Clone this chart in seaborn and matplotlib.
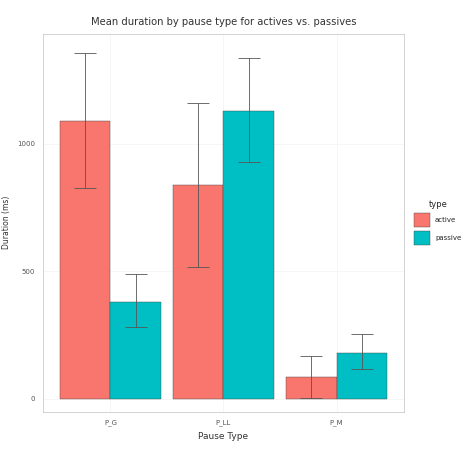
import numpy as np
import matplotlib.pyplot as plt
import pandas as pd
import seaborn as sns

pause_types = ["P_G", "P_LL", "P_M"]
active_mean = [1090, 838, 86]
active_lo = [825, 518, 2]
active_hi = [1354, 1160, 167]
passive_mean = [381, 1128, 179]
passive_lo = [280, 926, 117]
passive_hi = [490, 1335, 253]

df = pd.DataFrame({
    "pause": pause_types * 2,
    "type": ["active"] * 3 + ["passive"] * 3,
    "dur": active_mean + passive_mean,
    "lo": active_lo + passive_lo,
    "hi": active_hi + passive_hi,
})

sns.set_style("whitegrid")
plt.rcParams['font.family'] = ['DejaVu Sans']
fig = plt.figure(figsize=(4.73, 4.5), dpi=100)
ax = fig.add_axes([0.09, 0.085, 0.765, 0.84])

pal = {"active": "#F8766D", "passive": "#00BFC4"}
sns.barplot(data=df, x="pause", y="dur", hue="type", palette=pal, errorbar=None,
            width=0.9, edgecolor="#444444", linewidth=0.3, saturation=1, ax=ax)

# error bars at bar centres, in seaborn's order (hue-major)
for bar, (_, row) in zip(ax.patches, df.iterrows()):
    cx = bar.get_x() + bar.get_width() / 2
    ax.errorbar(cx, row["dur"], yerr=[[row["dur"] - row["lo"]], [row["hi"] - row["dur"]]],
                color="#555555", capsize=8, elinewidth=0.6, capthick=0.6)

ax.set_ylim(-50, 1430)
ax.set_xlim(-0.6, 2.6)
ax.set_yticks([0, 500, 1000])
ax.tick_params(labelsize=5, colors="#555555", length=2)
ax.set_xlabel("Pause Type", fontsize=6.5, color="#333333")
ax.set_ylabel("Duration (ms)", fontsize=5.5, color="#333333")
ax.set_title("Mean duration by pause type for actives vs. passives", fontsize=7.2, color="#333333")
ax.grid(color="#f3f3f3", linewidth=0.5)
for s in ax.spines.values():
    s.set_color("#cccccc")
    s.set_linewidth(0.6)

ax.legend(title="type", loc="center left", bbox_to_anchor=(1.01, 0.5), frameon=False,
          fontsize=5, title_fontsize=6, handlelength=2.2, handleheight=2.8)

fig.savefig("out.png", dpi=100)
